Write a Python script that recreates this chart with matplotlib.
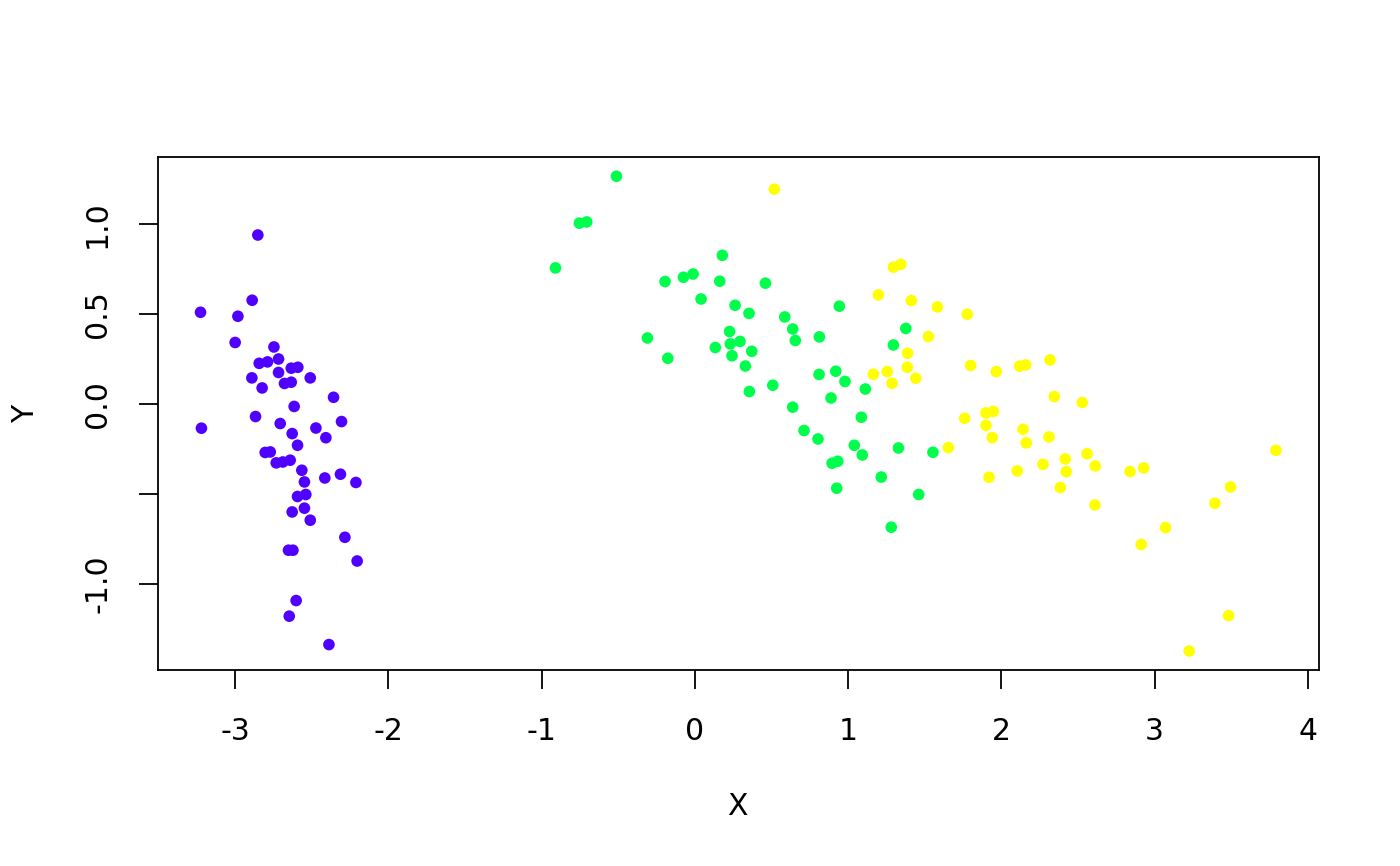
import numpy as np
import matplotlib
matplotlib.use('Agg')
import matplotlib.pyplot as plt

# scores, one array per cluster
purple_x = [-2.851, -2.888, -3.225, -2.981, -2.999, -2.746, -2.842, -2.788, -2.716, -2.633,
            -2.590, -2.716, -2.509, -2.890, -2.823, -2.677, -2.633, -2.357, -2.614, -2.866,
            -3.219, -2.705, -2.627, -2.472, -2.305, -2.407, -2.592, -2.803, -2.770, -2.731,
            -2.688, -2.640, -2.564, -2.547, -2.414, -2.312, -2.211, -2.592, -2.538, -2.547,
            -2.627, -2.509, -2.283, -2.651, -2.622, -2.203, -2.601, -2.646, -2.387]
purple_y = [0.940, 0.577, 0.510, 0.488, 0.342, 0.317, 0.226, 0.234, 0.250, 0.199,
            0.204, 0.175, 0.145, 0.145, 0.089, 0.114, 0.121, 0.037, -0.014, -0.070,
            -0.135, -0.109, -0.165, -0.134, -0.098, -0.188, -0.230, -0.270, -0.267, -0.328,
            -0.323, -0.313, -0.369, -0.434, -0.412, -0.391, -0.437, -0.515, -0.504, -0.580,
            -0.601, -0.647, -0.742, -0.814, -0.814, -0.874, -1.094, -1.181, -1.339]

green_x = [-0.511, -0.753, -0.705, -0.909, 0.180, -0.194, -0.074, -0.011, 0.163, 0.461,
           0.041, 0.263, 0.354, -0.309, -0.176, 0.227, 0.295, 0.232, 0.134, 0.372,
           0.243, 0.330, 0.509, 0.356, 0.587, 0.639, 0.656, 0.813, 0.943, 0.811,
           0.920, 0.980, 1.113, 0.889, 0.639, 1.087, 0.713, 0.804, 1.041, 1.093,
           0.896, 0.933, 0.926, 1.217, 1.329, 1.554, 1.461, 1.282, 1.377, 1.296]
green_y = [1.267, 1.006, 1.013, 0.757, 0.827, 0.681, 0.705, 0.723, 0.683, 0.672,
           0.584, 0.549, 0.504, 0.367, 0.254, 0.403, 0.348, 0.334, 0.314, 0.293,
           0.268, 0.211, 0.104, 0.069, 0.484, 0.417, 0.353, 0.373, 0.544, 0.164,
           0.182, 0.125, 0.083, 0.033, -0.018, -0.074, -0.148, -0.195, -0.230, -0.284,
           -0.330, -0.319, -0.469, -0.407, -0.245, -0.269, -0.504, -0.686, 0.420, 0.328]

yellow_x = [1.296, 1.344, 1.198, 1.413, 1.583, 1.778, 1.524, 1.388, 1.386, 1.256,
            1.165, 1.287, 1.442, 1.800, 1.967, 2.120, 2.159, 2.318, 2.346, 2.528,
            1.761, 1.900, 1.948, 1.900, 1.941, 2.142, 2.163, 2.311, 1.654, 2.560,
            2.417, 2.613, 2.272, 2.424, 2.104, 1.920, 2.385, 2.611, 2.840, 2.929,
            3.792, 3.496, 3.394, 3.072, 2.913, 3.483, 3.226, 0.519]
yellow_y = [0.761, 0.777, 0.607, 0.575, 0.540, 0.499, 0.375, 0.282, 0.204, 0.180,
            0.165, 0.115, 0.143, 0.214, 0.180, 0.210, 0.217, 0.245, 0.041, 0.008,
            -0.080, -0.050, -0.042, -0.119, -0.187, -0.141, -0.217, -0.184, -0.243, -0.277,
            -0.306, -0.345, -0.336, -0.377, -0.373, -0.408, -0.465, -0.562, -0.376, -0.356,
            -0.258, -0.462, -0.553, -0.688, -0.782, -1.178, -1.375, 1.195]

groups = [(purple_x, purple_y, '#5000FF'),
          (green_x, green_y, '#00FF4D'),
          (yellow_x, yellow_y, '#FFFF00')]

xticks = [-3, -2, -1, 0, 1, 2, 3, 4]
yticks = [-1.0, -0.5, 0.0, 0.5, 1.0]
ytick_labels = ['-1.0', '', '0.0', '0.5', '1.0']

fig = plt.figure(figsize=(14, 8.66), dpi=100)
ax = fig.add_axes([0.1125, 0.2263, 0.8296, 0.5921])

for xs, ys, col in groups:
    ax.scatter(xs, ys, s=70, c=col, edgecolors='none', zorder=3)

ax.margins(0.04)
ax.set_xticks(xticks)
ax.set_xticklabels([str(t) for t in xticks])
ax.set_yticks(yticks)
ax.set_yticklabels(ytick_labels, rotation=90, va='center')

ax.tick_params(axis='both', length=13.7, width=1.3, labelsize=21.5, color='black')
ax.tick_params(axis='x', pad=20)
ax.tick_params(axis='y', pad=19)
for sp in ax.spines.values():
    sp.set_linewidth(1.3)

ax.set_xlabel('X', fontsize=21.5)
ax.set_ylabel('Y', fontsize=21.5)
ax.xaxis.set_label_coords(0.499, -0.266)
ax.xaxis.label.set_va('center')
ax.yaxis.set_label_coords(-0.114, 0.5)
ax.yaxis.label.set_va('center')

fig.savefig('out.png', dpi=100)
